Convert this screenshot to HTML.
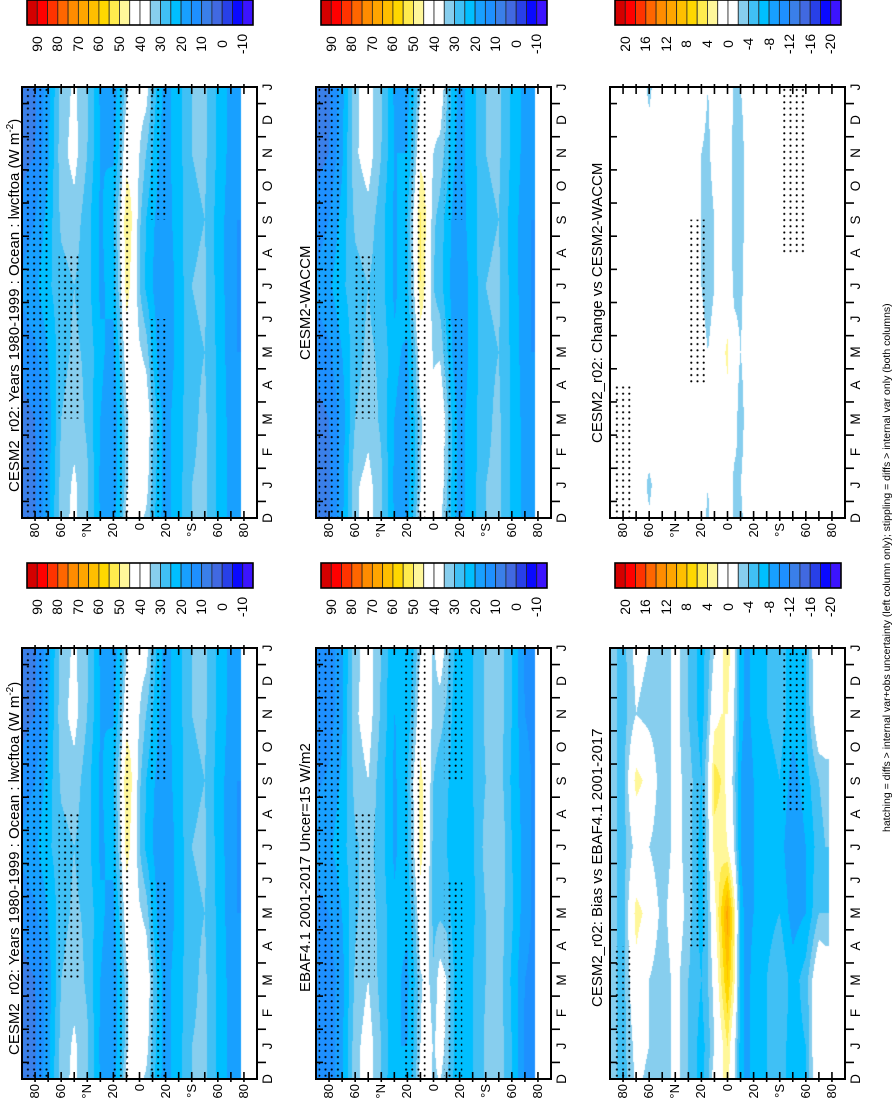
<!DOCTYPE html>
<html><head><meta charset="utf-8">
<style>
html,body{margin:0;padding:0;background:#fff;}
#root{position:relative;width:895px;height:1100px;overflow:hidden;font-family:"Liberation Sans",Arial,sans-serif;}
.rot{position:absolute;transform:rotate(-90deg);transform-origin:0 0;white-space:nowrap;color:#000;}
canvas{position:absolute;}
svg{position:absolute;left:0;top:0;}
</style></head>
<body>
<div id="root">
<svg id="ov" width="895" height="1100"></svg>
</div>
<script>
// ---- data ----
const lats = [90,80,70,60,50,40,30,20,15,10,5,0,-5,-10,-15,-20,-30,-40,-50,-60,-70,-75,-80];
// time nodes: Jan, Mar, May, Jul, Sep, Nov
const iceEdge = -78;
const modelR02 = [
[7,8,12,16,12,8],[9,10,14,19,15,10],[18,17,20,24,22,19],[32,30,28,28,31,33],[36,33,31,30,33,37],
[31,29,29,27,27,30],[19,20,21,19,19,20],[17,17,18,22,24,19],[22,22,26,33,35,27],[33,33,40,48,50,42],
[42,40,42,42,44,43],[38,39,36,30,31,35],[38,41,33,24,25,30],[29,31,24,20,21,25],[22,22,18,17,18,20],
[18,18,16,16,17,18],[23,23,22,22,23,23],[30,29,29,30,29,30],[31,31,30,31,30,31],[24,24,24,23,23,24],
[18,18,17,17,17,18],[16,16,15,15,15,16],[NaN,NaN,NaN,NaN,NaN,NaN]];
const modelWaccm = [
[7,8,12,16,12,8],[9,10,14,19,15,10],[18,17,20,24,22,19],[34,30,28,28,31,34],[37,33,31,30,33,38],
[31,29,29,27,27,30],[19,20,21,19,19,20],[18,18,19,24,25,20],[24,24,27,35,37,29],[34,34,40,50,51,43],
[42,39,41,42,44,43],[38,38,34,30,31,35],[40,42,34,27,28,33],[31,33,26,22,23,28],[23,23,19,18,19,21],
[18,18,16,16,17,18],[23,23,22,22,23,23],[30,29,29,30,29,30],[31,31,30,31,30,31],[24,24,24,23,23,24],
[18,18,17,17,17,18],[16,16,15,15,15,16],[NaN,NaN,NaN,NaN,NaN,NaN]];
const obsEbaf = [
[10,10,13,17,14,10],[12,12,15,19,16,12],[19,18,20,23,21,19],[33,31,29,29,32,34],[38,35,33,32,35,38],
[30,28,28,27,27,29],[20,21,21,19,19,20],[20,19,21,24,25,21],[25,24,28,35,36,29],[35,34,41,48,47,41],
[41,37,38,40,41,41],[34,31,28,28,30,33],[39,38,29,25,27,32],[33,35,28,25,26,29],[26,26,23,22,23,24],
[21,21,20,20,21,21],[25,25,24,24,25,25],[31,30,30,32,30,31],[33,33,33,35,33,33],[25,24,26,25,24,25],
[14,15,17,18,17,15],[13,14,15,15,15,14],[NaN,NaN,NaN,NaN,NaN,NaN]];
const biasEbaf = [
[-3,-3,-3,-3,-3,-3],[-5,-5,-5,-5,-5,-5],[-1,1,3,-1,3,-2],[-2,-2,1,-2,1,-3],[-4,-4,-3,-4,-4,-4],
[-1,-1,0,-1,-1,-1],[-4,-4,-3,-3,-3,-4],[-7,-6,-7,-7,-6,-7],[-5,-4,-4,-3,-2,-4],[-2,-1,1,3,5,1],
[1,4,6,3,4,2],[4,8,11,2,1,2],[-1,3,4,-2,-3,-2],[-7,-7,-7,-8,-8,-7],[-9,-9,-9,-10,-10,-9],
[-7,-7,-8,-8,-8,-7],[-6,-6,-7,-7,-7,-6],[-5,-4,-6,-7,-6,-5],[-7,-7,-9,-10,-9,-7],[-6,-5,-8,-8,-7,-6],
[2,1,-4,-5,-4,1],[1,0,-4,-4,-3,0],[NaN,NaN,NaN,NaN,NaN,NaN]];
const changeWaccm = [
[0,0,0,0,0,0],[-1,0,0,0,-1,-1],[0,0,0,0,0,0],[-2.5,0,0,0,0,-1],[0,0,0,0,0,0],
[0,0,0,0,0,0],[0,0,0,0,0,0],[-1,-1,-1,-2,-2,-2],[-2,-2,-2,-3,-3,-2.5],[-1,-1,-1,-2,-2,-1],
[0,1,1,0,0,0],[0,1,2.5,0,0,1],[-2.5,-1,-1,-2.5,-3,-3],[-2,-3,-2,-2.5,-3,-3],[-1,-1,-1,-1,-1,-1],
[0,0,0,0,0,0],[0,0,0,0,0,0],[0,0,0,0,0,0],[0,0,0,0,0,0],[-1,-1,-1,-1,-1,-1],
[0,0,0,0,0,0],[0,0,0,0,0,0],[NaN,NaN,NaN,NaN,NaN,NaN]];
const meanTicks = ["90","80","70","60","50","40","30","20","10","0","-10"];
const diffTicks = ["20","16","12","8","4","0","-4","-8","-12","-16","-20"];
const monthLabels = ["D","J","F","M","A","M","J","J","A","S","O","N","D","J"];
const latTickLabels = ["80","60","°N","20","0","20","°S","60","80"];
const latTickValues = [80,60,40,20,0,-20,-40,-60,-80];
// stipple regions: [latN, latS, mStart, mEnd] (m: 0=Dec ... 13=Jan)
const stipMean = [[88,70,0,13],[22,6,0,13],[-8,-22,0,6],[-8,-22,9,13],[62,45,3,8]];
const stipDiff = [[88,72,0,4],[30,15,4,9],[-40,-60,8,13]];

const colors = ["#d40000","#ff0000","#ff3300","#ff6600","#ff8c00","#ffa500","#ffbf00","#ffd700","#ffeb4d","#fff79a",
"#ffffff","#ffffff","#87ceee","#40c0f5","#00bfff","#18a0ff","#1e90ff","#3a7fe9","#4169e1","#2840e8","#0a0aff","#3c14ff"];

const panels = [
 {name:"cesm2-r02-model-panel", x:22, y:87, data:modelR02, diff:false, title:"CESM2_r02: Years 1980-1999 : Ocean : lwcftoa (W m",sup:true, tx:2, ty:492, stip:stipMean},
 {name:"cesm2-waccm-panel", x:316, y:87, data:modelWaccm, diff:false, title:"CESM2-WACCM", tx:297, ty:360, stip:stipMean},
 {name:"change-vs-waccm-panel", x:610, y:87, data:changeWaccm, diff:true, title:"CESM2_r02: Change vs CESM2-WACCM", tx:589, ty:443, stip:stipDiff},
 {name:"cesm2-r02-model-lower-panel", x:22, y:648, data:modelR02, diff:false, title:"CESM2_r02: Years 1980-1999 : Ocean : lwcftoa (W m",sup:true, tx:2, ty:1055, stip:stipMean},
 {name:"ebaf-obs-panel", x:316, y:648, data:obsEbaf, diff:false, title:"EBAF4.1 2001-2017 Uncer=15 W/m2", tx:297, ty:992, stip:stipMean},
 {name:"bias-vs-ebaf-panel", x:610, y:648, data:biasEbaf, diff:true, title:"CESM2_r02: Bias vs EBAF4.1 2001-2017", tx:589, ty:1007, stip:stipDiff}
];
const PW=235, PH=431;

const root=document.getElementById('root');
const ov=document.getElementById('ov');
const NS="http://www.w3.org/2000/svg";

function xScale(p,lat){return p.x+(90-lat)/180*PW;}
function yScale(p,m){return p.y+PH-m/13*PH;}

function sample(data,lat,m){
  if(lat<iceEdge) return NaN;
  let i=0; while(i<lats.length-2 && lat<lats[i+1]) i++;
  const fl=(lats[i]-lat)/(lats[i]-lats[i+1]);
  let mm=((m-1)%12+12)%12;
  const ti=Math.floor(mm/2)%6, ft=(mm-ti*2)/2, tj=(ti+1)%6;
  const a=data[i][ti]*(1-ft)+data[i][tj]*ft;
  const b=data[i+1][ti]*(1-ft)+data[i+1][tj]*ft;
  if(isNaN(b)) return a;
  return a*(1-fl)+b*fl;
}
function colorIdx(v,diff){
  let k=diff?Math.floor((22-v)/2):Math.floor((95-v)/5);
  return Math.max(0,Math.min(21,k));
}
function hex(c){return [parseInt(c.substr(1,2),16),parseInt(c.substr(3,2),16),parseInt(c.substr(5,2),16)];}
const rgb=colors.map(hex);

function rotText(txt,left,top,size,w,align,name){
  const d=document.createElement('div');
  d.className='rot';
  d.style.left=left+'px';d.style.top=top+'px';d.style.fontSize=size+'px';
  d.style.lineHeight=Math.round(size*1.15)+'px';
  if(w){d.style.width=w+'px';d.style.textAlign=align;}
  d.innerHTML=txt;
  
  
  root.appendChild(d);
  return d;
}
function line(x1,y1,x2,y2,sw,name){
  const l=document.createElementNS(NS,'line');
  l.setAttribute('x1',x1);l.setAttribute('y1',y1);l.setAttribute('x2',x2);l.setAttribute('y2',y2);
  l.setAttribute('stroke','#000');l.setAttribute('stroke-width',sw);
  
  
  ov.appendChild(l);
}
const defs=document.createElementNS(NS,'defs');
defs.innerHTML='<pattern id="dots" width="6.2" height="6.2" patternUnits="userSpaceOnUse"><circle cx="3.1" cy="3.1" r="1.05" fill="#000"/></pattern>';
ov.appendChild(defs);

panels.forEach(p=>{
  const cv=document.createElement('canvas');
  cv.width=PW;cv.height=PH;cv.style.left=p.x+'px';cv.style.top=p.y+'px';
  
  
  root.insertBefore(cv,ov);
  const ctx=cv.getContext('2d');const img=ctx.createImageData(PW,PH);
  for(let y=0;y<PH;y++){
    const m=(PH-y-0.5)/PH*13;
    for(let x=0;x<PW;x++){
      const lat=90-(x+0.5)/PW*180;
      const v=sample(p.data,lat,m);
      const c=isNaN(v)?[255,255,255]:rgb[colorIdx(v,p.diff)];
      const o=(y*PW+x)*4;img.data[o]=c[0];img.data[o+1]=c[1];img.data[o+2]=c[2];img.data[o+3]=255;
    }
  }
  ctx.putImageData(img,0,0);
  p.stip.forEach(s=>{
    const r=document.createElementNS(NS,'rect');
    const x1=xScale(p,s[0]),x2=xScale(p,s[1]),y1=yScale(p,s[3]),y2=yScale(p,s[2]);
    r.setAttribute('x',x1);r.setAttribute('y',y1);r.setAttribute('width',x2-x1);r.setAttribute('height',y2-y1);
    r.setAttribute('fill','url(#dots)');
    
    
    ov.appendChild(r);
  });
  const b=document.createElementNS(NS,'rect');
  b.setAttribute('x',p.x);b.setAttribute('y',p.y);b.setAttribute('width',PW);b.setAttribute('height',PH);
  b.setAttribute('fill','none');b.setAttribute('stroke','#000');b.setAttribute('stroke-width',2);
  
  
  ov.appendChild(b);
  for(let lat=80;lat>=-80;lat-=10){
    const x=xScale(p,lat);
    line(x,p.y-3,x,p.y+7,1.6,'lat-tick');
    line(x,p.y+PH-7,x,p.y+PH+3,1.6,'lat-tick');
  }
  latTickValues.forEach((lv,i)=>{
    rotText(latTickLabels[i],xScale(p,lv)-8,p.y+PH+5+30,13,30,'right','lat-label');
  });
  for(let i=0;i<13;i++){
    const y=yScale(p,i+0.5);
    line(p.x+PW,y,p.x+PW+9,y,1.6,'month-tick');
    line(p.x,y,p.x+7,y,1.6,'month-tick');
  }
  monthLabels.forEach((ml,i)=>{
    rotText(ml,p.x+PW+3,yScale(p,i)+10,13.5,20,'center','month-label');
  });
  rotText(p.title+(p.sup?'<sup style="font-size:10px">-2</sup>)':''),p.tx,p.ty,15,0,'','panel-title');
});

const cbars=[
 {x:27,y:0,diff:false},{x:321,y:0,diff:false},{x:615,y:0,diff:true},
 {x:27,y:563,diff:false},{x:321,y:563,diff:false},{x:615,y:563,diff:true}];
cbars.forEach(cb=>{
  const W=226,H=25,bw=W/22;
  const g=document.createElementNS(NS,'g');
  
  
  ov.appendChild(g);
  colors.forEach((c,i)=>{
    const r=document.createElementNS(NS,'rect');
    r.setAttribute('x',cb.x+i*bw);r.setAttribute('y',cb.y);r.setAttribute('width',bw);r.setAttribute('height',H);
    r.setAttribute('fill',c);r.setAttribute('stroke','#222');r.setAttribute('stroke-width',0.8);
    
    
    g.appendChild(r);
  });
  const o=document.createElementNS(NS,'rect');
  o.setAttribute('x',cb.x);o.setAttribute('y',cb.y);o.setAttribute('width',W);o.setAttribute('height',H);
  o.setAttribute('fill','none');o.setAttribute('stroke','#000');o.setAttribute('stroke-width',1.6);
  
  
  g.appendChild(o);
  const labs=cb.diff?diffTicks:meanTicks;
  labs.forEach((t,k)=>{
    const bx=cb.x+(2*k+1)*bw;
    rotText(t,bx-8.5,cb.y+44+20,14,40,'center','colorbar-label');
  });
});

rotText("hatching = diffs &gt; internal var+obs uncertainty (left column only); stippling = diffs &gt; internal var only (both columns)",881,832,10.5,0,'','footnote');
</script>
</body></html>
